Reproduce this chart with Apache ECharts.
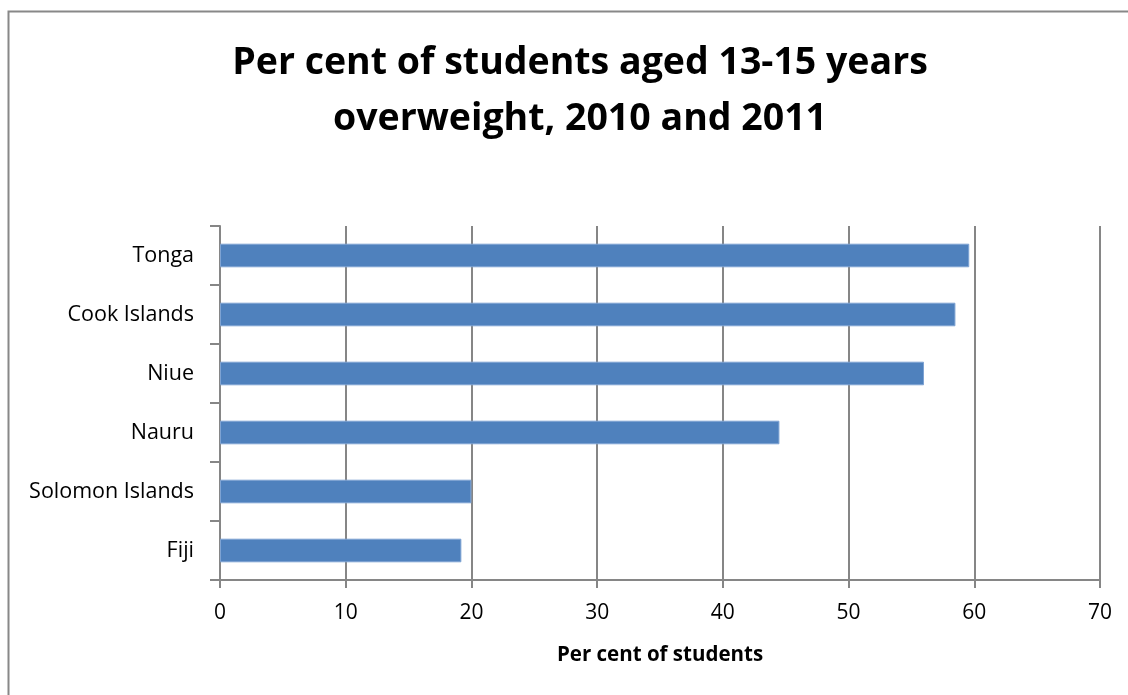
<!DOCTYPE html>
<html><head><meta charset="utf-8">
<script src="https://cdn.jsdelivr.net/npm/echarts@6/dist/echarts.min.js"></script>
<style>html,body{margin:0;padding:0;background:#fff}#c{width:1128px;height:695px}</style>
</head><body><div id="c"></div>
<script>
const categories = ["Fiji", "Solomon Islands", "Nauru", "Niue", "Cook Islands", "Tonga"];
const values = [19.2, 20.0, 44.5, 56.0, 58.5, 59.6];
const titleText = "Per cent of students aged 13-15 years\noverweight, 2010 and 2011";
const xAxisName = "Per cent of students";

const chart = echarts.init(document.getElementById('c'));
chart.setOption({
  animation: false,
  graphic: [{type:'rect', shape:{x:8.5,y:11.5,width:1130,height:700}, style:{fill:'none',stroke:'#888',lineWidth:2}}],
  title: {
    text: titleText, left: 575, top: 30, textAlign: 'center',
    textStyle: {fontFamily: 'Open Sans', fontWeight: 'bold', fontSize: 37.5, lineHeight: 56, color: '#000'}
  },
  grid: {left: 220, right: 28, top: 226, bottom: 115},
  xAxis: {
    type: 'value', min: 0, max: 70, interval: 10,
    name: xAxisName, nameLocation: 'middle', nameGap: 65,
    nameTextStyle: {fontFamily: 'Open Sans', fontWeight: 'bold', fontSize: 20.5, color: '#000'},
    axisLine: {show: true, lineStyle: {color: '#868686', width: 2}},
    axisTick: {show: true, length: 8, lineStyle: {color: '#868686', width: 2}},
    axisLabel: {fontFamily: 'Open Sans', fontSize: 21, color: '#000', margin: 23},
    splitLine: {show: true, lineStyle: {color: '#868686', width: 2}}
  },
  yAxis: {
    type: 'category', data: categories,
    axisLine: {show: true, lineStyle: {color: '#868686', width: 2}},
    axisTick: {show: true, length: 10, lineStyle: {color: '#868686', width: 2}},
    axisLabel: {fontFamily: 'Open Sans', fontSize: 21.5, color: '#000', margin: 26},
    splitLine: {show: false}
  },
  series: [{
    type: 'bar', data: values, barWidth: '40%',
    itemStyle: {color: '#4f81bd', borderColor: '#7ea3d3', borderWidth: 1}
  }]
});
</script></body></html>
